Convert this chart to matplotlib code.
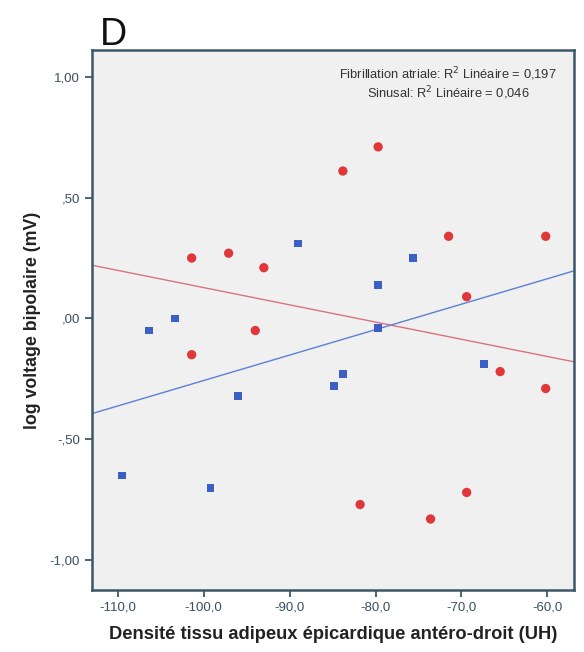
import numpy as np
import matplotlib
matplotlib.use("Agg")
import matplotlib.pyplot as plt
from matplotlib.ticker import FixedLocator

plt.rcParams['font.family'] = ['Liberation Sans', 'DejaVu Sans']

# Fibrillation atriale (red circles)
fa_x = [-101.4, -97.1, -93.0, -101.4, -94.0, -83.8, -79.7, -71.5, -60.2,
        -69.4, -65.5, -60.2, -81.8, -73.6, -69.4]
fa_y = [0.25, 0.27, 0.21, -0.15, -0.05, 0.61, 0.71, 0.34, 0.34,
        0.09, -0.22, -0.29, -0.77, -0.83, -0.72]

# Sinusal (blue squares)
sin_x = [-109.5, -106.4, -103.3, -99.2, -96.0, -89.0, -79.7, -79.7, -75.6,
         -84.8, -83.8, -67.4]
sin_y = [-0.65, -0.05, 0.00, -0.70, -0.32, 0.31, 0.14, -0.04, 0.25,
         -0.28, -0.23, -0.19]

x_ticks = [-110, -100, -90, -80, -70, -60]
x_labels = ["-110,0", "-100,0", "-90,0", "-80,0", "-70,0", "-60,0"]
y_ticks = [-1.0, -0.5, 0.0, 0.5, 1.0]
y_labels = ["-1,00", "-,50", ",00", ",50", "1,00"]

red = "#e0383a"
blue = "#3b5fc4"

fig = plt.figure(figsize=(5.84, 6.52), dpi=100)
ax = fig.add_axes([0.1575, 0.095, 0.8255, 0.828])
ax.set_facecolor("#f0f0f0")

xlim = (-113.0, -56.9)
ax.set_xlim(xlim)
ax.set_ylim(-1.124, 1.11)

# regression lines
xx = np.array(xlim)
for xs, ys, c in [(fa_x, fa_y, "#d9737c"), (sin_x, sin_y, "#5b80d6")]:
    b, a = np.polyfit(xs, ys, 1)
    ax.plot(xx, a + b * xx, color=c, lw=1.0, zorder=2)

ax.scatter(fa_x, fa_y, s=45, marker='o', color=red, edgecolors='none', zorder=3)
ax.scatter(sin_x, sin_y, s=32, marker='s', color=blue, edgecolors='none', zorder=3)

ax.xaxis.set_major_locator(FixedLocator(x_ticks))
ax.set_xticklabels(x_labels)
ax.yaxis.set_major_locator(FixedLocator(y_ticks))
ax.set_yticklabels(y_labels)
ax.tick_params(axis='both', direction='out', length=5, width=1.2,
               color="#2e4a5a", labelcolor="#3a4f60", labelsize=9.5)

for sp in ax.spines.values():
    sp.set_color("#3c5868")
    sp.set_linewidth(1.8)

ax.set_xlabel("Densité tissu adipeux épicardique antéro-droit (UH)",
              fontsize=13.2, fontweight='bold', color="#222222", labelpad=9)
ax.set_ylabel("log voltage bipolaire (mV)", fontsize=12.8,
              fontweight='bold', color="#222222", labelpad=6)

ax.text(0.739, 0.972, "Fibrillation atriale: R$^2$ Linéaire = 0,197\nSinusal: R$^2$ Linéaire = 0,046",
        transform=ax.transAxes, ha='center', va='top', fontsize=9.3,
        color="#333333", linespacing=1.1)

fig.text(0.171, 0.931, "D", fontsize=27, color="#111111", ha='left', va='baseline')

fig.savefig("out.png", dpi=100)
